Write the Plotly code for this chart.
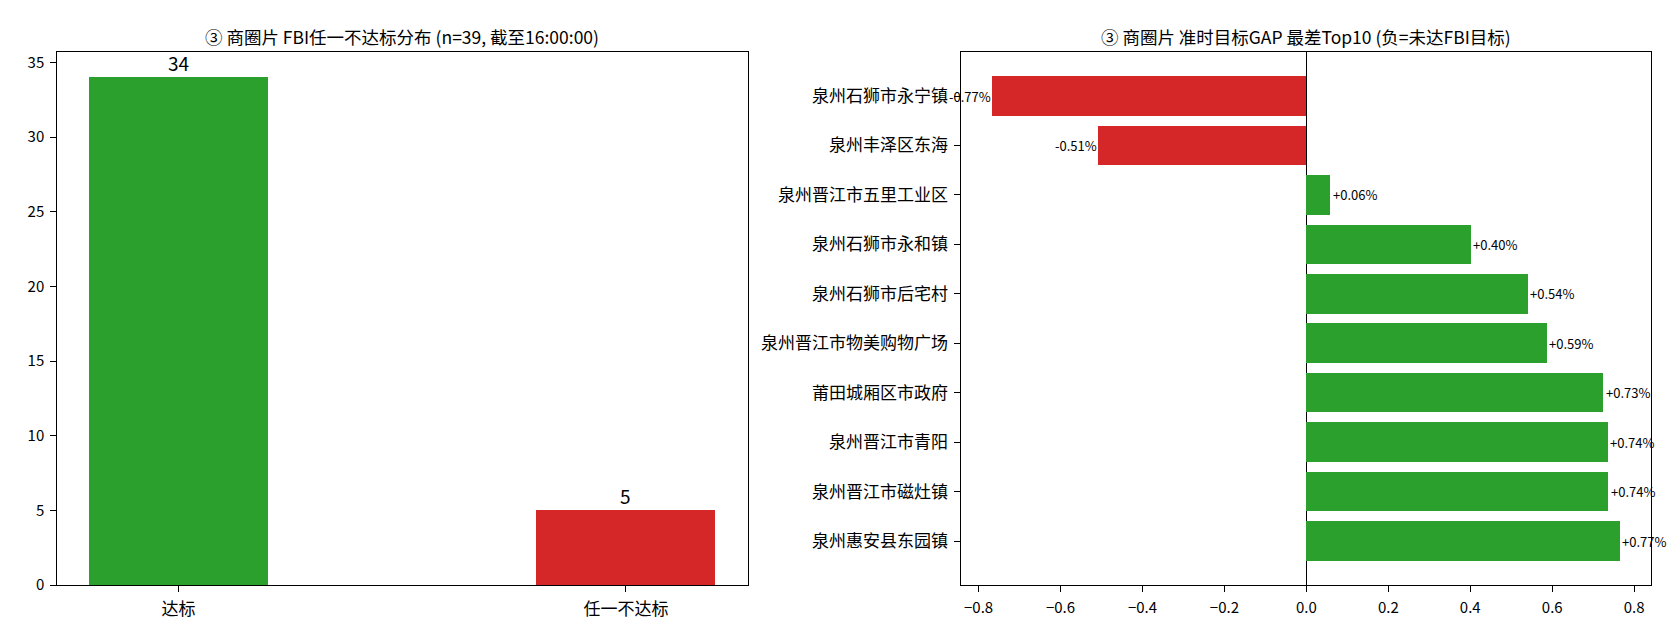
import plotly.graph_objects as go

# left panel: count of shops meeting / missing FBI target
status_labels = ["达标", "任一不达标"]
status_counts = [34, 5]
status_colors = ["#2ca02c", "#d62728"]

# right panel: on-time target gap, worst top10 (top to bottom)
shops = [
    "泉州石狮市永宁镇",
    "泉州丰泽区东海",
    "泉州晋江市五里工业区",
    "泉州石狮市永和镇",
    "泉州石狮市后宅村",
    "泉州晋江市物美购物广场",
    "莆田城厢区市政府",
    "泉州晋江市青阳",
    "泉州晋江市磁灶镇",
    "泉州惠安县东园镇",
]
gap = [-0.7652, -0.507, 0.059, 0.402, 0.542, 0.588, 0.726, 0.736, 0.738, 0.766]

title_left = "③ 商圈片 FBI任一不达标分布 (n=39, 截至16:00:00)"
title_right = "③ 商圈片 准时目标GAP 最差Top10 (负=未达FBI目标)"

FONT = "Noto Sans CJK SC, DejaVu Sans, sans-serif"
GREEN = "#2ca02c"
RED = "#d62728"

LEFT_DOM = [0.0293, 0.4403]
RIGHT_DOM = [0.5675, 0.9782]
Y_DOM = [0.0753, 0.9295]

fig = go.Figure()

fig.add_trace(go.Bar(
    x=status_labels, y=status_counts, width=0.4,
    marker=dict(color=status_colors, line=dict(width=0)),
    xaxis="x", yaxis="y", showlegend=False, hoverinfo="x+y",
))

fig.add_trace(go.Bar(
    x=gap, y=shops, orientation="h", width=0.8,
    marker=dict(color=[GREEN if v >= 0 else RED for v in gap], line=dict(width=0)),
    xaxis="x2", yaxis="y2", showlegend=False, hoverinfo="x+y",
))

annotations = []
for lab, cnt in zip(status_labels, status_counts):
    annotations.append(dict(
        x=lab, y=cnt, xref="x", yref="y", text=str(cnt), showarrow=False,
        xanchor="center", yanchor="bottom", yshift=-1,
        font=dict(family=FONT, size=19, color="black"),
    ))
for name, v in zip(shops, gap):
    annotations.append(dict(
        x=v, y=name, xref="x2", yref="y2", text=f"{v:+.2f}%", showarrow=False,
        xanchor="left" if v >= 0 else "right", yanchor="middle", xshift=0,
        font=dict(family=FONT, size=13, color="black"),
    ))
for txt, dom in [(title_left, LEFT_DOM), (title_right, RIGHT_DOM)]:
    annotations.append(dict(
        x=sum(dom) / 2, y=0.954, xref="paper", yref="paper", text=txt, showarrow=False,
        xanchor="center", yanchor="middle",
        font=dict(family=FONT, size=17.5, color="black"),
    ))

axis_common = dict(
    showline=True, linecolor="black", linewidth=1, mirror=True,
    ticks="outside", ticklen=6, tickwidth=1, tickcolor="black",
    showgrid=False, zeroline=False, automargin=False,
    ticklabelstandoff=3,
)
num_font = dict(family=FONT, size=15, color="black")
cjk_font = dict(family=FONT, size=17, color="black")

fig.update_layout(
    width=1680, height=624,
    margin=dict(l=0, r=0, t=0, b=0, pad=0),
    paper_bgcolor="white", plot_bgcolor="white",
    bargap=0,
    xaxis=dict(axis_common, domain=LEFT_DOM, range=[-0.271, 1.272],
               type="category", anchor="y", tickfont=cjk_font),
    yaxis=dict(axis_common, domain=Y_DOM, range=[0, 35.7],
               tickvals=[0, 5, 10, 15, 20, 25, 30, 35], anchor="x", tickfont=num_font),
    xaxis2=dict(axis_common, domain=RIGHT_DOM, range=[-0.842, 0.842],
                tickvals=[-0.8, -0.6, -0.4, -0.2, 0.0, 0.2, 0.4, 0.6, 0.8],
                tickformat=".1f", anchor="y2", tickfont=num_font,
                zeroline=True, zerolinecolor="black", zerolinewidth=1),
    yaxis2=dict(axis_common, domain=Y_DOM, range=[9.89, -0.89],
                type="category", anchor="x2", tickfont=cjk_font),
    annotations=annotations,
    font=dict(family=FONT, color="black"),
)

fig.write_html("out.html")
